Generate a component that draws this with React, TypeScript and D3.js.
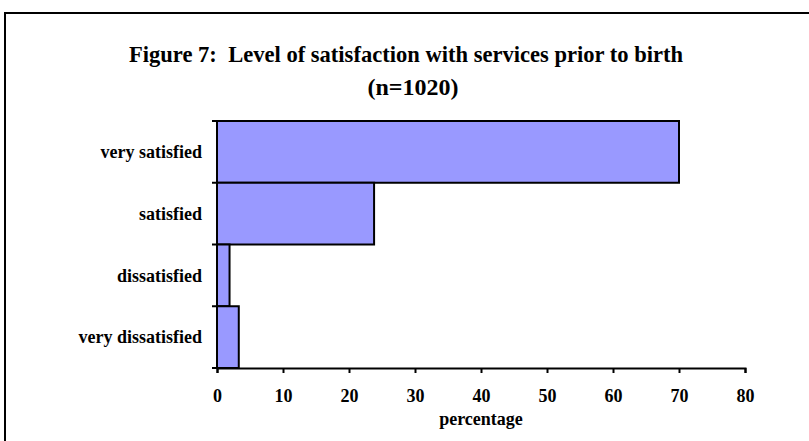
import React, { useEffect, useRef } from 'react';
import * as d3 from 'd3';

const categories = ['very satisfied', 'satisfied', 'dissatisfied', 'very dissatisfied'];
const percentages = [70.0, 23.8, 1.9, 3.3];
const xTicks = [0, 10, 20, 30, 40, 50, 60, 70, 80];

export default function App() {
    const chartRef = useRef<SVGSVGElement | null>(null);

    const width = 809;
    const height = 441;
    const margin = { top: 121, left: 217 };
    const plotWidth = 528;
    const plotHeight = 247;

    const xScale = d3.scaleLinear()
        .domain([0, 80])
        .range([0, plotWidth]);

    const yScale = d3.scaleBand()
        .domain(categories)
        .range([0, plotHeight])
        .padding(0);

    useEffect(() => {
        const svg = d3.select(chartRef.current);
        svg.selectAll('*').remove();

        // frame around the whole figure
        svg.append('rect')
            .attr('x', 5)
            .attr('y', 13)
            .attr('width', 830)
            .attr('height', 460)
            .attr('fill', 'white')
            .attr('stroke', 'black')
            .attr('stroke-width', 2);

        const font = '"Liberation Serif", "Times New Roman", serif';

        // Title
        svg.append('text')
            .attr('x', 406)
            .attr('y', 62)
            .attr('text-anchor', 'middle')
            .attr('textLength', 554)
            .attr('lengthAdjust', 'spacingAndGlyphs')
            .style('white-space', 'pre')
            .style('font-family', font)
            .style('font-weight', 'bold')
            .style('font-size', '24px')
            .text('Figure 7:  Level of satisfaction with services prior to birth');
        svg.append('text')
            .attr('x', 413)
            .attr('y', 95)
            .attr('text-anchor', 'middle')
            .style('font-family', font)
            .style('font-weight', 'bold')
            .style('font-size', '24px')
            .text('(n=1020)');

        const chart = svg.append('g')
            .attr('transform', `translate(${margin.left}, ${margin.top})`);

        // bars
        chart.selectAll('rect.bar')
            .data(categories)
            .enter()
            .append('rect')
                .attr('class', 'bar')
                .attr('x', 0)
                .attr('y', d => yScale(d) as number)
                .attr('width', (d, i) => xScale(percentages[i]))
                .attr('height', yScale.bandwidth())
                .attr('fill', '#9999FF')
                .attr('stroke', 'black')
                .attr('stroke-width', 2);

        // x axis
        const xAxis = d3.axisBottom(xScale)
            .tickValues(xTicks)
            .tickSize(5)
            .tickSizeOuter(5)
            .tickPadding(16);
        const gx = chart.append('g')
            .attr('transform', `translate(0, ${plotHeight})`)
            .call(xAxis);
        gx.select('.domain').attr('stroke-width', 2);
        gx.selectAll('.tick line').attr('stroke-width', 2);
        gx.selectAll('.tick text')
            .style('font-family', font)
            .style('font-weight', 'bold')
            .style('font-size', '18px')
            .attr('fill', 'black');

        // y axis: ticks at category boundaries
        chart.append('line')
            .attr('x1', 0).attr('x2', 0)
            .attr('y1', 0).attr('y2', plotHeight)
            .attr('stroke', 'black')
            .attr('stroke-width', 2);
        const boundaries = categories.map(c => yScale(c) as number).concat([plotHeight]);
        chart.selectAll('line.ytick')
            .data(boundaries)
            .enter()
            .append('line')
                .attr('class', 'ytick')
                .attr('x1', -5).attr('x2', 0)
                .attr('y1', d => d).attr('y2', d => d)
                .attr('stroke', 'black')
                .attr('stroke-width', 2);

        chart.selectAll('text.ylabel')
            .data(categories)
            .enter()
            .append('text')
                .attr('class', 'ylabel')
                .attr('x', -15)
                .attr('y', d => (yScale(d) as number) + yScale.bandwidth() / 2)
                .attr('dy', '0.35em')
                .attr('text-anchor', 'end')
                .style('font-family', font)
                .style('font-weight', 'bold')
                .style('font-size', '18px')
                .text(d => d);

        // x axis title
        chart.append('text')
            .attr('x', xScale(40))
            .attr('y', plotHeight + 57)
            .attr('text-anchor', 'middle')
            .style('font-family', font)
            .style('font-weight', 'bold')
            .style('font-size', '18px')
            .text('percentage');
    }, []);

    return (
        <div style={{ position: 'absolute', left: 0, top: 0 }}>
            <svg ref={chartRef} width={width} height={height} style={{ display: 'block' }} />
        </div>
    );
}
